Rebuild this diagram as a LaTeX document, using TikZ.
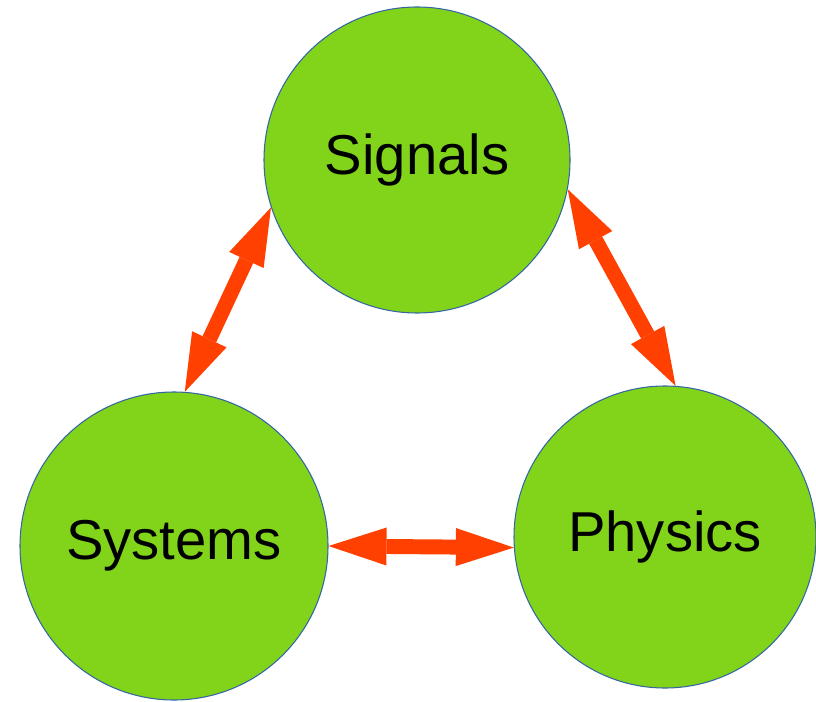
\documentclass[tikz,border=0pt]{standalone}
\usepackage{fontspec}
\setmainfont{Liberation Sans}
\usetikzlibrary{arrows.meta}

\definecolor{leafgreen}{HTML}{81D41A}
\definecolor{rimblue}{HTML}{3465A4}
\definecolor{linkorange}{HTML}{FF4000}

\tikzset{
    topic/.style={circle, draw=rimblue, line width=0.6pt, fill=leafgreen,
        inner sep=0pt, font=\fontsize{32}{38}\selectfont},
    link/.style={linkorange, line width=8.5pt,
        {Triangle[length=1.16cm, width=0.76cm, line width=0pt]}-{Triangle[length=1.16cm, width=0.76cm, line width=0pt]}}
}

\begin{document}
\begin{tikzpicture}
    \useasboundingbox (0, 0) rectangle (16.32, -14.04);

    % Topics
    \node[topic, minimum size=6.12cm] (signals) at (8.34, -3.2) {Signals};
    \node[topic, minimum size=6.16cm] (systems) at (3.48, -10.92) {Systems};
    \node[topic, minimum size=6.04cm] (physics) at (13.3, -10.74) {Physics};

    % Links
    \draw[link] (signals.198) -- (systems.86);
    \draw[link] (signals.349) -- (physics.86);
    \draw[link] (systems.0) -- (physics.184);
\end{tikzpicture}
\end{document}
